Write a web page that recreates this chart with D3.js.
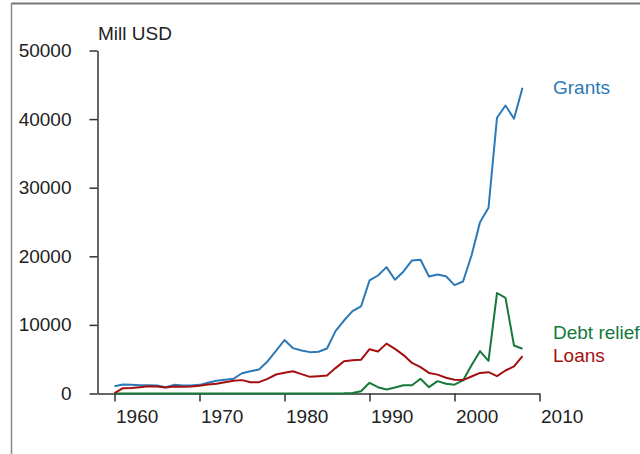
<!DOCTYPE html>
<html>
<head>
<meta charset="utf-8">
<script src="https://cdn.jsdelivr.net/npm/d3@7"></script>
<style>
  body { margin: 0; background: #fff; }
  svg { display: block; font-family: "Liberation Sans", Arial, sans-serif; }
</style>
</head>
<body>
<svg id="chart" width="640" height="454"></svg>
<script>
const years = d3.range(1960, 2009);

const grants = [
  1060, 1300, 1260, 1210, 1210, 1160, 920, 1260, 1160, 1160,
  1260, 1560, 1850, 2000, 2150, 2950, 3230, 3500, 4670, 6200,
  7800, 6610, 6270, 6030, 6080, 6560, 9100, 10640, 12000, 12690,
  16480, 17200, 18420, 16580, 17790, 19390, 19490, 17060, 17350, 17100,
  15800, 16330, 20120, 24980, 27080, 40200, 41990, 40050, 44580,
];

const loans = [
  50, 780, 790, 920, 1070, 1020, 875, 1020, 970, 1020,
  1120, 1310, 1410, 1650, 1850, 1950, 1650, 1650, 2140, 2770,
  3020, 3250, 2820, 2430, 2530, 2620, 3700, 4710, 4860, 4910,
  6460, 6120, 7270, 6510, 5600, 4450, 3850, 3000, 2750, 2300,
  2000, 1950, 2480, 3000, 3110, 2530, 3350, 3960, 5440,
];

const debtRelief = [
  0, 0, 0, 0, 0, 0, 0, 0, 0, 0,
  0, 0, 0, 0, 0, 0, 0, 0, 0, 0,
  0, 0, 0, 0, 0, 0, 0, 20, 80, 340,
  1560, 920, 580, 875, 1210, 1210, 2140, 920, 1800, 1410,
  1290, 1900, 4130, 6170, 4760, 14650, 13930, 7000, 6520,
];

const seriesNames = ['Grants', 'Debt relief', 'Loans'];
const seriesColors = ['#2c79b7', '#16783a', '#a3100f'];
const labelY = [94, 339, 362];
const yTicks = [0, 10000, 20000, 30000, 40000, 50000];
const xTicks = [1960, 1970, 1980, 1990, 2000, 2010];
const yUnit = 'Mill USD';

const fontSize = 19;
const axisColor = '#333';

const svg = d3.select('#chart');

// frame round the picture
svg.append('line')
  .attr('x1', 11.5).attr('x2', 640).attr('y1', 3.5).attr('y2', 3.5)
  .attr('stroke', '#777').attr('stroke-width', 2);
svg.append('line')
  .attr('x1', 11.5).attr('x2', 11.5).attr('y1', 3).attr('y2', 454)
  .attr('stroke', '#888').attr('stroke-width', 1.5);

const x = d3.scaleLinear().domain([1958, 2010]).range([97.5, 539.5]);
const y = d3.scaleLinear().domain([0, 50000]).range([393.5, 50.5]);

const xAxis = svg.append('g')
  .attr('transform', `translate(0,${y(0)})`)
  .call(d3.axisBottom(x).tickValues(xTicks).tickFormat(d3.format('d'))
    .tickSize(8).tickSizeOuter(0).tickPadding(7));

const yAxis = svg.append('g')
  .attr('transform', `translate(${x(1958)},0)`)
  .call(d3.axisLeft(y).tickValues(yTicks).tickFormat(d3.format('d'))
    .tickSize(8).tickSizeOuter(0).tickPadding(18));

[xAxis, yAxis].forEach((g) => {
  g.select('.domain').attr('stroke', axisColor).attr('stroke-width', 1.5);
  g.selectAll('.tick line').attr('stroke', axisColor).attr('stroke-width', 1.5);
  g.selectAll('.tick text')
    .attr('fill', '#222')
    .attr('font-size', fontSize)
    .attr('font-family', '"Liberation Sans", Arial, sans-serif');
});

xAxis.selectAll('.tick text').attr('text-anchor', 'start').attr('x', 1).attr('dy', '0.75em');

svg.append('text')
  .attr('x', 98)
  .attr('y', 40)
  .attr('font-size', fontSize)
  .attr('fill', '#222')
  .text(yUnit);

const line = d3.line()
  .x((d, i) => x(years[i]))
  .y((d) => y(d));

[grants, debtRelief, loans].forEach((values, i) => {
  svg.append('path')
    .datum(values)
    .attr('fill', 'none')
    .attr('stroke', seriesColors[i])
    .attr('stroke-width', 2)
    .attr('stroke-linejoin', 'round')
    .attr('d', line);

  svg.append('text')
    .attr('x', 553)
    .attr('y', labelY[i])
    .attr('font-size', fontSize)
    .attr('fill', seriesColors[i])
    .text(seriesNames[i]);
});
</script>
</body>
</html>
